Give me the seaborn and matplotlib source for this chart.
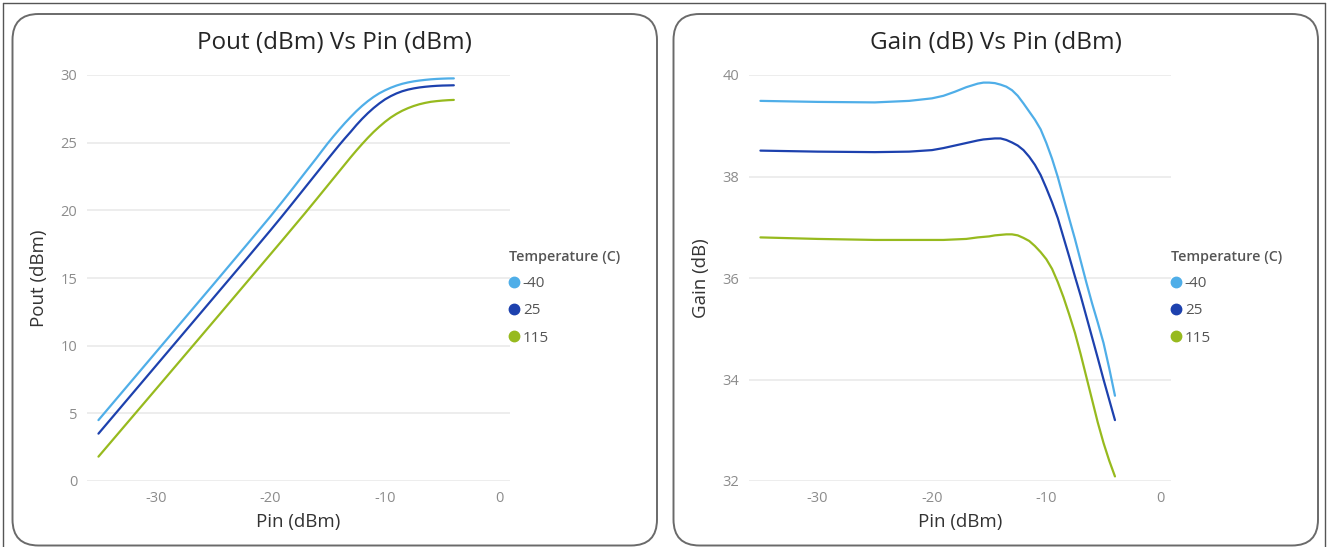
import numpy as np
import pandas as pd
import matplotlib
matplotlib.use("Agg")
import matplotlib.pyplot as plt
from matplotlib.patches import FancyBboxPatch
from matplotlib.lines import Line2D
from matplotlib.transforms import IdentityTransform
import seaborn as sns

# ---------------- data ----------------
pin = [-35, -30, -25, -22, -20, -19, -18, -17, -16, -15.5, -15, -14.5, -14, -13.5, -13,
       -12.5, -12, -11.5, -11, -10.5, -10, -9.5, -9, -8.5, -8, -7.5, -7, -6.5, -6,
       -5.5, -5, -4.5, -4]
temperatures = ["-40", "25", "115"]

pout_m40 = [4.5, 9.5, 14.5, 17.52, 19.55, 20.6, 21.67, 22.76, 23.84, 24.4, 24.95, 25.47,
            25.97, 26.45, 26.9, 27.33, 27.72, 28.07, 28.38, 28.65, 28.87, 29.06, 29.22,
            29.35, 29.45, 29.53, 29.59, 29.64, 29.68, 29.71, 29.73, 29.745, 29.75]
pout_25 = [3.5, 8.5, 13.5, 16.5, 18.52, 19.55, 20.6, 21.66, 22.72, 23.25, 23.78, 24.3,
           24.82, 25.32, 25.8, 26.3, 26.76, 27.18, 27.56, 27.9, 28.2, 28.44, 28.64,
           28.8, 28.92, 29.01, 29.08, 29.13, 29.17, 29.2, 29.22, 29.23, 29.24]
pout_115 = [1.8, 6.77, 11.75, 14.75, 16.75, 17.75, 18.76, 19.77, 20.8, 21.32, 21.84, 22.36,
            22.88, 23.4, 23.92, 24.42, 24.9, 25.36, 25.79, 26.18, 26.54, 26.86, 27.13,
            27.36, 27.55, 27.71, 27.84, 27.94, 28.02, 28.07, 28.11, 28.14, 28.16]

gain_m40 = [39.49, 39.47, 39.46, 39.49, 39.54, 39.59, 39.67, 39.76, 39.83, 39.85, 39.85,
            39.84, 39.81, 39.77, 39.70, 39.59, 39.44, 39.28, 39.12, 38.93, 38.66, 38.35,
            37.99, 37.58, 37.17, 36.77, 36.34, 35.91, 35.50, 35.12, 34.72, 34.22, 33.68]
gain_25 = [38.51, 38.49, 38.48, 38.49, 38.52, 38.56, 38.61, 38.66, 38.71, 38.73, 38.74,
           38.75, 38.75, 38.72, 38.67, 38.61, 38.52, 38.39, 38.23, 38.03, 37.77, 37.49,
           37.18, 36.80, 36.42, 36.03, 35.65, 35.24, 34.83, 34.42, 34.00, 33.60, 33.20]
gain_115 = [36.80, 36.77, 36.75, 36.75, 36.75, 36.75, 36.76, 36.77, 36.80, 36.81, 36.82,
            36.84, 36.85, 36.86, 36.86, 36.84, 36.79, 36.73, 36.63, 36.51, 36.37, 36.18,
            35.92, 35.62, 35.28, 34.92, 34.50, 34.05, 33.60, 33.15, 32.75, 32.40, 32.09]

pout_ticks = [0, 5, 10, 15, 20, 25, 30]
gain_ticks = [32, 34, 36, 38, 40]
pin_ticks = [-30, -20, -10, 0]

colors = ["#4FAEE8", "#1D41AE", "#97BA1E"]

# ---------------- long form tables ----------------
def long_table(series, name):
    rows = []
    for t, vals in zip(temperatures, series):
        for x, y in zip(pin, vals):
            rows.append({"Pin": x, name: y, "Temperature (C)": t})
    return pd.DataFrame(rows)

df_pout = long_table([pout_m40, pout_25, pout_115], "Pout")
df_gain = long_table([gain_m40, gain_25, gain_115], "Gain")

# ---------------- style ----------------
sns.set_theme(style="white")
plt.rcParams["font.family"] = ["Open Sans", "DejaVu Sans"]

W, H = 1328, 547
fig = plt.figure(figsize=(W / 100, H / 100), dpi=100)
fig.patch.set_facecolor("white")

ident = IdentityTransform()

# outer frame
fig.add_artist(Line2D([3, 3], [0, H - 3], color="#555555", lw=1.0, transform=ident))
fig.add_artist(Line2D([3, W - 3], [H - 3, H - 3], color="#555555", lw=1.0, transform=ident))
fig.add_artist(Line2D([W - 3, W - 3], [0, H - 3], color="#555555", lw=1.0, transform=ident))

# rounded panels
for x0, x1 in [(12.5, 657), (673.5, 1318)]:
    fig.add_artist(FancyBboxPatch((x0, 1.5), x1 - x0, 533 - 1.5,
                                  boxstyle="round,pad=0,rounding_size=26",
                                  facecolor="none", edgecolor="#6a6a6a", lw=1.4,
                                  transform=ident, zorder=0))

def px_axes(x0, x1, ytop, ybot):
    return [x0 / W, (H - ybot) / H, (x1 - x0) / W, (ybot - ytop) / H]

ax1 = fig.add_axes(px_axes(87, 510, 75, 481))
ax2 = fig.add_axes(px_axes(749, 1171, 75, 481))

palette = dict(zip(temperatures, colors))

sns.lineplot(data=df_pout, x="Pin", y="Pout", hue="Temperature (C)", palette=palette,
             hue_order=temperatures, ax=ax1, legend=False, linewidth=1.6)
sns.lineplot(data=df_gain, x="Pin", y="Gain", hue="Temperature (C)", palette=palette,
             hue_order=temperatures, ax=ax2, legend=False, linewidth=1.6)

for ax, yt, ylim, ylabel in [(ax1, pout_ticks, (0, 30), "Pout (dBm)"),
                             (ax2, gain_ticks, (32, 40), "Gain (dB)")]:
    ax.set_xlim(-36, 0.9)
    ax.set_ylim(*ylim)
    ax.set_xticks(pin_ticks)
    ax.set_yticks(yt)
    ax.set_xticklabels([str(v) for v in pin_ticks])
    ax.set_yticklabels([str(v) for v in yt])
    ax.tick_params(axis="both", length=0, labelsize=10.5, labelcolor="#8c8c8c")
    ax.tick_params(axis="y", pad=7)
    ax.tick_params(axis="x", pad=7)
    for s in ax.spines.values():
        s.set_visible(False)
    ax.grid(axis="y", color="#ececec", lw=1.3)
    ax.grid(axis="x", visible=False)
    ax.set_axisbelow(True)
    ax.set_facecolor("none")
    for ln in ax.lines:
        ln.set_clip_on(False)
        ln.set_solid_joinstyle("round")
    ax.set_xlabel("Pin (dBm)", fontsize=13.5, color="#333333", labelpad=5)
    ax.set_ylabel(ylabel, fontsize=13.5, color="#333333", labelpad=9)

# titles centred on panels
fig.text(334.5 / W, 1 - 43 / H, "Pout (dBm) Vs Pin (dBm)", ha="center", va="center",
         fontsize=17.5, color="#252525")
fig.text(996 / W, 1 - 43 / H, "Gain (dB) Vs Pin (dBm)", ha="center", va="center",
         fontsize=17.5, color="#252525")

# legends
handles = [Line2D([], [], marker="o", linestyle="none", markersize=7.5,
                  markerfacecolor=c, markeredgecolor=c) for c in colors]
for lx in [506, 1168]:
    leg = fig.legend(handles, temperatures, title="Temperature (C)",
                     loc="upper left", bbox_to_anchor=(lx / W, 1 - 247 / H),
                     frameon=False, fontsize=11, title_fontsize=10.3,
                     handlelength=0.6, handletextpad=0.3, labelspacing=0.8,
                     borderpad=0.2, borderaxespad=0)
    leg._legend_box.align = "left"
    leg.get_title().set_color("#555555")
    leg.get_title().set_fontweight("semibold")
    for t in leg.get_texts():
        t.set_color("#555555")

fig.savefig("out.png", dpi=100)
